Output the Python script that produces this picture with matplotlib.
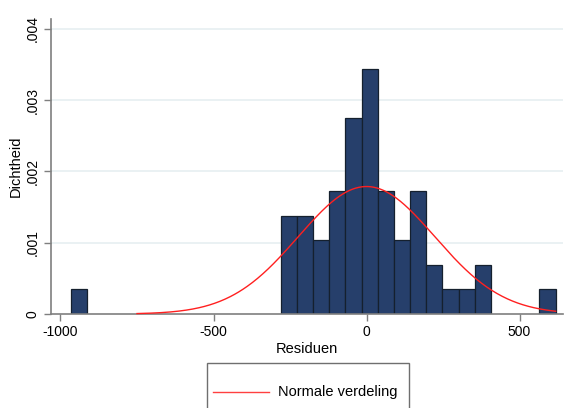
import numpy as np
import matplotlib
matplotlib.use('Agg')
import matplotlib.pyplot as plt
from matplotlib.patches import Rectangle
from matplotlib.lines import Line2D

plt.rcParams['font.family'] = ['Liberation Sans', 'DejaVu Sans']

# data: residual histogram (counts per bin), 30 bins
bin_start = -967.0
bin_end = 618.0
bin_counts = [1, 0, 0, 0, 0, 0, 0, 0, 0, 0, 0, 0, 0,
              4, 4, 3, 5, 8, 10, 5, 3, 5, 2, 1, 1, 2,
              0, 0, 0, 1]
resid_mean = 0.0
resid_sd = 223.0
curve_range = (-750, 618)

x_ticks = [-1000, -500, 0, 500]
y_ticks = [0, 0.001, 0.002, 0.003, 0.004]
y_ticklabels = ['0', '.001', '.002', '.003', '.004']

# derived
nbins = len(bin_counts)
width = (bin_end - bin_start) / nbins
edges = bin_start + width * np.arange(nbins)
n_obs = sum(bin_counts)
density = np.array(bin_counts) / (n_obs * width)

fig = plt.figure(figsize=(5.65, 4.08), dpi=100)
ax = fig.add_axes([51/565, 1 - 314/408, 512/565, 295/408])

gridcol = '#e6eff1'
axcol = '#7f7f7f'

for y in y_ticks[1:]:
    ax.axhline(y, color=gridcol, lw=1.2, zorder=0)

mask = np.array(bin_counts) > 0
ax.bar(edges[mask], density[mask], width=width, align='edge',
       color='#263f6b', edgecolor='#15202e', linewidth=0.9, zorder=2)

xs = np.linspace(curve_range[0], curve_range[1], 400)
ys = np.exp(-0.5 * ((xs - resid_mean) / resid_sd) ** 2) / (resid_sd * np.sqrt(2 * np.pi))
ax.plot(xs, ys, color='#ff2020', lw=1.0, zorder=4, clip_on=False)

ax.set_xlim(-1031, 642)
ax.set_ylim(0, 0.00414)

for s in ['top', 'right']:
    ax.spines[s].set_visible(False)
for s in ['left', 'bottom']:
    ax.spines[s].set_color(axcol)
    ax.spines[s].set_linewidth(1.2)
    ax.spines[s].set_zorder(3)

ax.set_xticks(x_ticks)
ax.set_xticklabels([str(t) for t in x_ticks])
ax.set_yticks(y_ticks)
ax.set_yticklabels(y_ticklabels, rotation=90, va='center')
ax.tick_params(axis='both', colors=axcol, labelcolor='black',
               labelsize=10, length=5, width=1.0, pad=3)

ax.set_xlabel('Residuen', fontsize=10.5, labelpad=2)
ax.set_ylabel('Dichtheid', fontsize=10.5, labelpad=2)

# legend box (clipped by bottom edge like in Stata export)
fig.add_artist(Rectangle((207/565, 1 - 430/408), 202/565, 67/408,
                         transform=fig.transFigure, fill=False,
                         edgecolor='#6f6f6f', lw=1.0))
fig.add_artist(Line2D([213/565, 269/565], [1 - 392/408, 1 - 392/408],
                      transform=fig.transFigure, color='#ff4040', lw=1.0))
fig.text(278/565, 1 - 392/408, 'Normale verdeling', fontsize=10.5,
         va='center', ha='left')

fig.savefig('out.png', dpi=100)
